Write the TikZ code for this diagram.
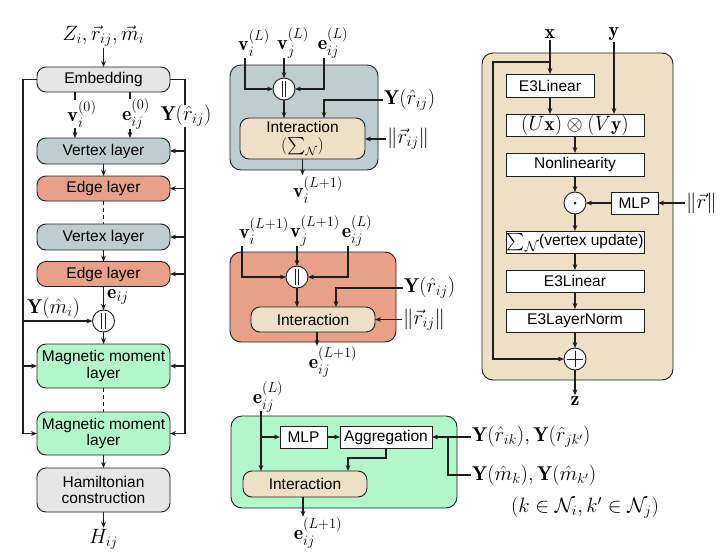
\documentclass[tikz,border=0pt]{standalone}
\usepackage{fontspec}
\newfontfamily\arial{Liberation Sans}
\usepackage{amsmath}
\usetikzlibrary{arrows.meta,calc}
\definecolor{cgray}{HTML}{E6E6E6}
\definecolor{cvert}{HTML}{BFCDD1}
\definecolor{cedge}{HTML}{E8A088}
\definecolor{cmint}{HTML}{B2F7CC}
\definecolor{cbeige}{HTML}{EDE0C7}
\definecolor{cline}{HTML}{1E1E1E}
\begin{document}
\begin{tikzpicture}[x=1pt,y=-1pt,
 ar/.style={-{Stealth[length=6pt,width=4.8pt]},line width=1.1pt,draw=cline},
 ln/.style={line width=1.1pt,draw=cline},
 dsh/.style={ln,dash pattern=on 4pt off 3pt},
 box/.style={draw=cline,line width=0.9pt,inner sep=0pt,outer sep=0pt,align=center,font=\arial\fontsize{15.5}{16.5}\selectfont},
 layer/.style={box,rounded corners=9pt},
 wbox/.style={box,fill=white},
 panel/.style={draw=cline,line width=0.9pt,rounded corners=11pt,inner sep=0pt,outer sep=0pt},
 op/.style={circle,draw=cline,fill=white,line width=0.9pt,minimum size=22pt,inner sep=0pt,outer sep=0pt},
 bar/.style={line width=0.9pt,draw=cline},
 ml/.style={inner sep=1pt,font=\fontsize{20}{22}\selectfont},
]
\useasboundingbox (0,0) rectangle (724,558);

% ================= left column =================
\node[layer,fill=cgray,minimum width=133pt,minimum height=25pt] (emb) at (103.5,79.5) {Embedding};
\node[layer,fill=cvert,minimum width=133pt,minimum height=26pt] (v1) at (103.5,151) {Vertex layer};
\node[layer,fill=cedge,minimum width=133pt,minimum height=25pt] (e1) at (103.5,188.5) {Edge layer};
\node[layer,fill=cvert,minimum width=133pt,minimum height=26pt] (v2) at (103.5,237) {Vertex layer};
\node[layer,fill=cedge,minimum width=133pt,minimum height=25pt] (e2) at (103.5,274) {Edge layer};
\node[op] (cat) at (103.5,321) {};
\node[layer,fill=cmint,minimum width=133pt,minimum height=44pt] (mm1) at (103.5,366) {Magnetic moment\\layer};
\node[layer,fill=cmint,minimum width=133pt,minimum height=43pt] (mm2) at (103.5,433.5) {Magnetic moment\\layer};
\node[layer,fill=cgray,minimum width=133pt,minimum height=44pt] (ham) at (103.5,490) {Hamiltonian\\construction};
\node[ml] (zin) at (103.5,36) {$Z_i,\vec r_{ij},\vec m_i$};
\node[ml] (hout) at (103.5,539) {$H_{ij}$};

\draw[bar] ([xshift=-1.8pt,yshift=-3pt]cat.north) -- ([xshift=-1.8pt,yshift=3pt]cat.south)
      ([xshift=1.8pt,yshift=-3pt]cat.north) -- ([xshift=1.8pt,yshift=3pt]cat.south);

\draw[ar] (zin.south) -- (emb.north);
\draw[ar] ([xshift=-28.5pt]emb.south) -- ([xshift=-28.5pt]v1.north);
\draw[ar] ([xshift=26.5pt]emb.south) -- ([xshift=26.5pt]v1.north);
\node[ml,fill=white,inner sep=0.5pt] (lv0) at (82,114) {$\mathbf v_i^{(0)}$};
\node[ml,fill=white,inner sep=0.5pt] (le0) at (136,114) {$\mathbf e_{ij}^{(0)}$};
\draw[ar] (v1.south) -- (e1.north);
\draw[dsh] (e1.south) -- (v2.north);
\draw[ar] (v2.south) -- (e2.north);
\draw[ar] (e2.south) -- (cat.north);
\node[ml,anchor=west] (leij) at (106,297) {$\mathbf e_{ij}$};
\draw[ar] (cat.south) -- (mm1.north);
\draw[dsh] (mm1.south) -- (mm2.north);
\draw[ar] (mm2.south) -- (ham.north);
\draw[ar] (ham.south) -- (hout.north);

\coordinate (L) at (23,0);
\coordinate (R) at (185,0);
\draw[ar] (emb.west) -| (L |- mm2) -- (mm2.west);
\draw[ar] (L |- mm1) -- (mm1.west);
\draw[ar] (L |- cat) -- (cat.west);
\draw[ar] (emb.east) -| (R |- mm2) -- (mm2.east);
\foreach \n in {v1,e1,v2,e2,mm1} \draw[ar] (R |- \n) -- (\n.east);
\node[ml,fill=white,inner sep=0.5pt] (lyr) at (186,116) {$\mathbf Y(\hat r_{ij})$};
\node[ml,anchor=west] (lym) at (26,308) {$\mathbf Y(\hat m_i)$};

% ================= vertex layer detail =================
\node[panel,fill=cvert,minimum width=148pt,minimum height=105pt] (vp) at (304,117.5) {};
\node[ml] (vi) at (254,43) {$\mathbf v_i^{(L)}$};
\node[ml] (vj) at (293,43) {$\mathbf v_j^{(L)}$};
\node[ml] (ve) at (333,43) {$\mathbf e_{ij}^{(L)}$};
\coordinate (a1) at (245,58);
\coordinate (a2) at (284,58);
\coordinate (a3) at (324,58);
\node[op] (c1) at (284,89) {};
\draw[bar] ([xshift=-1.8pt,yshift=-3pt]c1.north) -- ([xshift=-1.8pt,yshift=3pt]c1.south)
      ([xshift=1.8pt,yshift=-3pt]c1.north) -- ([xshift=1.8pt,yshift=3pt]c1.south);
\node[layer,fill=cbeige,minimum width=125pt,minimum height=41pt] (i1) at (302.5,138.5)
  {Interaction\\[1pt]{\fontsize{17}{18}\selectfont$(\sum_{\mathcal N})$}};
\draw[ar] (a1) |- (c1.west);
\draw[ar] (a2) -- (c1.north);
\draw[ar] (a3) |- (c1.east);
\draw[ar] (c1.south) -- (c1.south |- i1.north);
\node[ml,anchor=west] (y1) at (383,100) {$\mathbf Y(\hat r_{ij})$};
\draw[ar] (y1.west) -| ([xshift=21.5pt]i1.north);
\node[ml,anchor=west] (n1) at (386,139) {$\|\vec r_{ij}\|$};
\draw[ar] (n1.west) -- (n1.west -| i1.east);
\node[ml] (vo) at (318,190) {$\mathbf v_i^{(L+1)}$};
\draw[ar] (i1.south) -- (i1.south |- vo.north);

% ================= edge layer detail =================
\node[panel,fill=cedge,minimum width=166pt,minimum height=90pt] (ep) at (313,297) {};
\node[ml] (wi) at (264,231) {$\mathbf v_i^{(L+1)}$};
\node[ml] (wj) at (315,231) {$\mathbf v_j^{(L+1)}$};
\node[ml] (we) at (357,231) {$\mathbf e_{ij}^{(L)}$};
\coordinate (b1) at (242,246);
\coordinate (b2) at (297,246);
\coordinate (b3) at (348,246);
\node[op] (c2) at (297,277) {};
\draw[bar] ([xshift=-1.8pt,yshift=-3pt]c2.north) -- ([xshift=-1.8pt,yshift=3pt]c2.south)
      ([xshift=1.8pt,yshift=-3pt]c2.north) -- ([xshift=1.8pt,yshift=3pt]c2.south);
\node[layer,fill=cbeige,minimum width=124pt,minimum height=25pt] (i2) at (313,319.5) {Interaction};
\draw[ar] (b1) |- (c2.west);
\draw[ar] (b2) -- (c2.north);
\draw[ar] (b3) |- (c2.east);
\draw[ar] (c2.south) -- (c2.south |- i2.north);
\node[ml,anchor=west] (y2) at (403,288) {$\mathbf Y(\hat r_{ij})$};
\draw[ar] (y2.west) -| ([xshift=23pt]i2.north);
\node[ml,anchor=west] (n2) at (402,319.5) {$\|\vec r_{ij}\|$};
\draw[ar] (n2.west) -- (n2.west -| i2.east);
\node[ml] (eo2) at (333,362) {$\mathbf e_{ij}^{(L+1)}$};
\draw[ar] ([xshift=4pt]i2.south) -- ([xshift=4pt]i2.south |- eo2.north);

% ================= magnetic moment layer detail =================
\node[panel,fill=cmint,minimum width=226pt,minimum height=92pt] (mp) at (344,462) {};
\node[ml] (me) at (268,397) {$\mathbf e_{ij}^{(L)}$};
\coordinate (s3) at (261,411);
\node[wbox,minimum width=47pt,minimum height=22pt] (mlp1) at (303.5,437) {MLP};
\node[wbox,minimum width=92pt,minimum height=22pt] (agg) at (386,437) {Aggregation};
\node[layer,fill=cbeige,minimum width=124pt,minimum height=26pt] (i3) at (305,484) {Interaction};
\draw[ar] (s3) -- (s3 |- i3.north);
\draw[ar] (s3 |- mlp1) -- (mlp1.west);
\draw[ar] (mlp1.east) -- (agg.west);
\draw[ar] (agg.south) -- ++(0,10) -| ([xshift=43pt]i3.north);
\node[ml,anchor=west] (yr) at (471,437) {$\mathbf Y(\hat r_{ik}),\mathbf Y(\hat r_{jk'})$};
\node[ml,anchor=west] (ym) at (471,475) {$\mathbf Y(\hat m_{k}),\mathbf Y(\hat m_{k'})$};
\coordinate (jn) at (448,437);
\draw[ar] (yr.west) -- (agg.east);
\draw[ln] (ym.west) -| (jn);
\node[ml] (kn) at (585,508) {$(k\in\mathcal N_i,k'\in\mathcal N_j)$};
\node[ml] (eo3) at (318,533) {$\mathbf e_{ij}^{(L+1)}$};
\draw[ar] ([xshift=-2pt]i3.south) -- ([xshift=-2pt]i3.south |- eo3.north);

% ================= right panel =================
\node[panel,fill=cbeige,minimum width=191pt,minimum height=327pt] (rp) at (577.5,216.5) {};
\node[ml] (xl) at (550,34) {$\mathbf x$};
\node[ml] (yl) at (614,34) {$\mathbf y$};
\node[wbox,minimum width=88pt,minimum height=23pt] (lin1) at (550,85.5) {E3Linear};
\node[wbox,minimum width=138pt,minimum height=22pt] (uv) at (575,125) {{\fontsize{19.5}{20}\selectfont$(U\mathbf x)\otimes(V\mathbf y)$}};
\node[wbox,minimum width=138pt,minimum height=23pt] (nl) at (575,164.5) {Nonlinearity};
\node[op] (dot) at (575,203) {};
\fill[cline] (dot.center) circle (1.5pt);
\node[wbox,minimum width=47pt,minimum height=22pt] (mlp2) at (634.5,203) {MLP};
\node[ml,anchor=west] (rn) at (685,203) {$\|\vec r\|$};
\node[wbox,minimum width=138pt,minimum height=22pt] (sv) at (575,242) {{\fontsize{19}{20}\selectfont$\sum_{\mathcal N}$}(vertex update)};
\node[wbox,minimum width=138pt,minimum height=22pt] (lin2) at (575,281) {E3Linear};
\node[wbox,minimum width=138pt,minimum height=23pt] (lnorm) at (575,320.5) {E3LayerNorm};
\node[op] (plus) at (575,359) {};
\draw[bar] ([xshift=3pt]plus.west) -- ([xshift=-3pt]plus.east)
      ([yshift=-3pt]plus.north) -- ([yshift=3pt]plus.south);
\node[ml] (zl) at (575,401) {$\mathbf z$};
\coordinate (sk) at (550,62);
\coordinate (skc) at (493,359);
\draw[ar] (xl.south) -- (lin1.north);
\draw[ar] (yl.south) -- (yl.south |- uv.north);
\draw[ar] (lin1.south) -- (lin1.south |- uv.north);
\draw[ar] (uv.south) -- (nl.north);
\draw[ar] (nl.south) -- (dot.north);
\draw[ar] (mlp2.west) -- (dot.east);
\draw[ar] (rn.west) -- (mlp2.east);
\draw[ar] (dot.south) -- (sv.north);
\draw[ar] (sv.south) -- (lin2.north);
\draw[ar] (lin2.south) -- (lnorm.north);
\draw[ar] (lnorm.south) -- (plus.north);
\draw[ar] (sk) -| (skc) -- (plus.west);
\draw[ar] (plus.south) -- (zl.north);
\end{tikzpicture}
\end{document}
